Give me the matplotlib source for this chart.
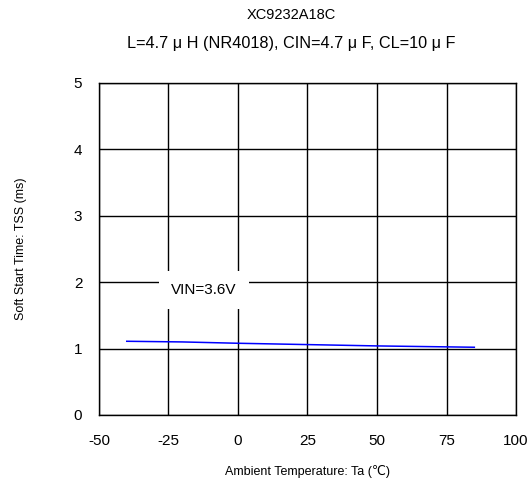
import matplotlib
matplotlib.use("Agg")
import matplotlib.pyplot as plt

plt.rcParams['font.family'] = ['Liberation Sans', 'DejaVu Sans']
plt.rcParams['axes.unicode_minus'] = False

# data
ta = [-40, -20, 0, 25, 50, 85]
tss = [1.11, 1.10, 1.08, 1.06, 1.04, 1.02]
x_ticks = [-50, -25, 0, 25, 50, 75, 100]
y_ticks = [0, 1, 2, 3, 4, 5]
series_label = "VIN=3.6V"

fig = plt.figure(figsize=(5.32, 4.84), dpi=100)
ax = fig.add_axes([0.186, 0.1426, 0.784, 0.686])

ax.plot(ta, tss, color='#0000ff', linewidth=1.1)

ax.set_xlim(-50, 100)
ax.set_ylim(0, 5)
ax.set_xticks(x_ticks)
ax.set_yticks(y_ticks)
ax.tick_params(length=0, labelsize=11)
ax.tick_params(axis='x', pad=14)
ax.tick_params(axis='y', pad=12)
ax.grid(True, color='black', linewidth=1.0)
ax.set_axisbelow(True)
for s in ax.spines.values():
    s.set_linewidth(1.0)

ax.text(-12.2, 1.88, series_label, ha='center', va='center', fontsize=11,
        bbox=dict(facecolor='white', edgecolor='none', boxstyle='square,pad=0.8'))

ax.set_xlabel("Ambient Temperature: Ta (\u2103)", fontsize=9, labelpad=12)
ax.set_ylabel("Soft Start Time: TSS (ms)", fontsize=9, labelpad=34)

fig.text(0.547, 0.969, "XC9232A18C", ha='center', va='center', fontsize=10.5)
fig.text(0.547, 0.91, "L=4.7 \u03bc H (NR4018), CIN=4.7 \u03bc F, CL=10 \u03bc F",
         ha='center', va='center', fontsize=11.7)

fig.savefig("out.png", dpi=100)
